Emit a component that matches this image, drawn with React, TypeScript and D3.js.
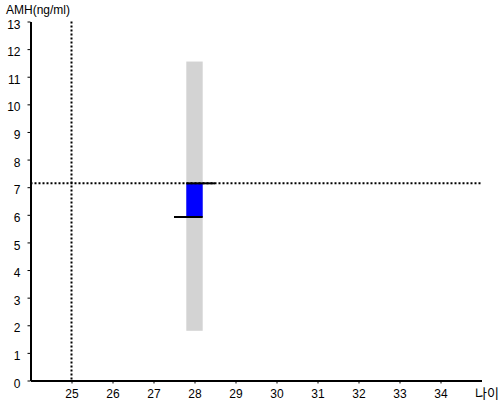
import { useEffect, useRef } from 'react';
import * as d3 from 'd3';

const xTicks = [25, 26, 27, 28, 29, 30, 31, 32, 33, 34];
const yTicks = [0, 1, 2, 3, 4, 5, 6, 7, 8, 9, 10, 11, 12, 13];
// normal range (grey) and patient value (blue) at age 28
const ageValue = 28;
const normalRange = [1.8, 11.55];
const patientRange = [5.92, 7.14];
const refAge = 25;
const refAmh = 7.14;

const App = () => {
  const ref = useRef<SVGSVGElement>(null);
  const width = 500;
  const height = 400;

  useEffect(() => {
    if (!ref.current) return;
    const svg = d3.select(ref.current);
    svg.selectAll('*').remove();
    const font = '"Liberation Sans", Arial, "Noto Sans CJK KR", sans-serif';

    const x = d3.scaleLinear().domain([24, 35]).range([30.5, 481.5]);
    const y = d3.scaleLinear().domain([0, 13]).range([380.5, 21.5]);

    // grey normal band
    svg
      .append('rect')
      .attr('x', x(ageValue - 0.2))
      .attr('width', x(ageValue + 0.2) - x(ageValue - 0.2))
      .attr('y', y(normalRange[1]))
      .attr('height', y(normalRange[0]) - y(normalRange[1]))
      .attr('fill', '#d3d3d3');

    // blue patient bar
    svg
      .append('rect')
      .attr('x', x(ageValue - 0.2))
      .attr('width', x(ageValue + 0.2) - x(ageValue - 0.2))
      .attr('y', y(patientRange[1]))
      .attr('height', y(patientRange[0]) - y(patientRange[1]))
      .attr('fill', '#0000ff');

    // whiskers
    svg
      .append('line')
      .attr('x1', x(ageValue - 0.2))
      .attr('x2', x(ageValue + 0.5))
      .attr('y1', y(patientRange[1]))
      .attr('y2', y(patientRange[1]))
      .attr('stroke', '#000')
      .attr('stroke-width', 2);
    svg
      .append('line')
      .attr('x1', x(ageValue - 0.5))
      .attr('x2', x(ageValue + 0.2))
      .attr('y1', y(patientRange[0]))
      .attr('y2', y(patientRange[0]))
      .attr('stroke', '#000')
      .attr('stroke-width', 2);

    // dotted reference lines
    svg
      .append('line')
      .attr('x1', x(24))
      .attr('x2', x(35))
      .attr('y1', y(refAmh))
      .attr('y2', y(refAmh))
      .attr('stroke', '#000')
      .attr('stroke-width', 2)
      .attr('stroke-dasharray', '2,2');
    svg
      .append('line')
      .attr('x1', x(refAge))
      .attr('x2', x(refAge))
      .attr('y1', y(13))
      .attr('y2', y(0))
      .attr('stroke', '#000')
      .attr('stroke-width', 2)
      .attr('stroke-dasharray', '2,2');

    // axes
    const xAxis = svg
      .append('g')
      .attr('transform', `translate(0, ${y(0)})`)
      .call(d3.axisBottom(x).tickValues(xTicks).tickSize(3).tickSizeOuter(0));
    xAxis.select('.domain').attr('stroke', '#000').attr('stroke-width', 2);
    xAxis
      .selectAll('text')
      .attr('dy', '0.95em')
      .style('font-family', font)
      .style('font-size', '12px')
      .attr('fill', '#000');

    const yAxis = svg
      .append('g')
      .attr('transform', `translate(${x(24)}, 0)`)
      .call(d3.axisLeft(y).tickValues(yTicks).tickSize(3).tickSizeOuter(0));
    yAxis.select('.domain').attr('stroke', '#000').attr('stroke-width', 2);
    yAxis
      .selectAll('text')
      .attr('x', -10)
      .attr('dy', '0.55em')
      .style('font-family', font)
      .style('font-size', '12px')
      .attr('fill', '#000');

    svg
      .append('text')
      .attr('x', 6)
      .attr('y', 14)
      .style('font-family', font)
      .style('font-size', '12px')
      .text('AMH(ng/ml)');
    svg
      .append('text')
      .attr('x', 475)
      .attr('y', 398)
      .style('font-family', font)
      .style('font-size', '13px')
      .text('나이');
  }, []);

  return (
    <div style={{ position: 'absolute', left: 0, top: 0 }}>
      <svg ref={ref} width={width} height={height} />
    </div>
  );
};

export default App;
